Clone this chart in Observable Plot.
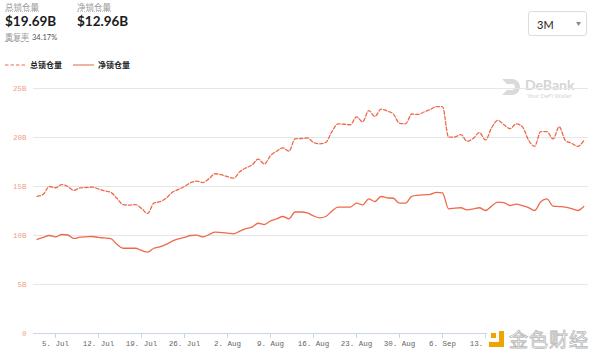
<!DOCTYPE html>
<html><head><meta charset="utf-8">
<script src="https://cdn.jsdelivr.net/npm/d3@7"></script>
<script src="https://cdn.jsdelivr.net/npm/@observablehq/plot@0.6"></script>
<style>
html,body{margin:0;padding:0;background:#fff;width:600px;height:358px;overflow:hidden;font-family:Lato,"Noto Sans CJK SC",sans-serif;}
#wrap{position:relative;width:600px;height:358px;}
#header{position:relative;height:80px;}
.abs{position:absolute;white-space:nowrap;line-height:1;}
.lbl{font-size:8.5px;color:#9a9a9a;font-family:"Noto Sans CJK SC",sans-serif;}
.num{font-size:13.5px;font-weight:700;color:#1a1a1a;}
#chart{position:absolute;left:0;top:80px;}
</style></head>
<body><div id="wrap">
<div id="header">
  <div class="abs lbl" style="left:5px;top:2px;border-bottom:1px dotted #c4c4c4;">总锁仓量</div>
  <div class="abs num" style="left:5px;top:15px;">$19.69B</div>
  <div class="abs lbl" style="left:77px;top:2px;border-bottom:1px dotted #c4c4c4;">净锁仓量</div>
  <div class="abs num" style="left:77px;top:15px;">$12.96B</div>
  <div class="abs lbl" style="left:5px;top:33px;font-size:8px;border-bottom:1px dashed #aaa;">重复率</div>
  <div class="abs" style="left:32px;top:34px;font-size:7.5px;color:#555;">34.17%</div>
  <div class="abs" style="left:528px;top:11px;width:59px;height:25px;border:1px solid #dcdcdc;border-radius:3px;box-sizing:border-box;">
    <span class="abs" style="left:8px;top:7px;font-size:11px;color:#222;">3M</span>
    <span class="abs" style="left:47px;top:9px;font-size:5px;color:#888;">▼</span>
  </div>
  <svg class="abs" style="left:5px;top:61px;" width="24" height="8"><line x1="0" y1="4" x2="21" y2="4" stroke="#eca08a" stroke-width="1.6" stroke-dasharray="3.5,2"/></svg>
  <div class="abs" style="left:30px;top:61px;font-size:8px;font-weight:700;color:#222;font-family:'Noto Sans CJK SC',sans-serif;">总锁仓量</div>
  <svg class="abs" style="left:73px;top:61px;" width="24" height="8"><line x1="0" y1="4" x2="21" y2="4" stroke="#eca08a" stroke-width="1.6"/></svg>
  <div class="abs" style="left:98px;top:61px;font-size:8px;font-weight:700;color:#222;font-family:'Noto Sans CJK SC',sans-serif;">净锁仓量</div>
  <div class="abs" style="left:500px;top:76px;width:22px;height:22px;">
    <svg width="22" height="22"><path d="M2 3 H12 A8 8 0 0 1 12 19 H2 L7 14 H12 A3 3 0 0 0 12 8 H7 Z" fill="#dadada"/></svg>
  </div>
</div>
<div class="abs" style="left:525px;top:78px;font-size:14px;font-weight:700;color:#d4d4d4;">DeBank</div>
<div class="abs" style="left:527px;top:93px;font-size:6px;color:#d4d4d4;">Your DeFi Wallet</div>
<div id="chart"></div>
<div class="abs" style="left:487px;top:328px;width:103px;height:22px;background:rgba(255,255,255,0.85);"></div>
<div class="abs" style="left:489px;top:331px;width:16px;height:16px;">
  <svg width="16" height="16"><path d="M10 0 H15 V16 H0 V11 H10 Z" fill="#f0a400"/><rect x="2" y="2" width="5" height="5" fill="#f0a400"/></svg>
</div>
<div class="abs" style="left:509px;top:329px;font-size:19px;color:#fff;-webkit-text-stroke:0.8px #b8b8b8;font-family:'Noto Sans CJK SC',sans-serif;letter-spacing:1px;">金色财经</div>
</div>
<script>
const dates = [
"2021-07-02","2021-07-03","2021-07-04","2021-07-05","2021-07-06","2021-07-07","2021-07-08","2021-07-09","2021-07-10","2021-07-11",
"2021-07-12","2021-07-13","2021-07-14","2021-07-15","2021-07-16","2021-07-17","2021-07-18","2021-07-19","2021-07-20","2021-07-21",
"2021-07-22","2021-07-23","2021-07-24","2021-07-25","2021-07-26","2021-07-27","2021-07-28","2021-07-29","2021-07-30","2021-07-31",
"2021-08-01","2021-08-02","2021-08-03","2021-08-04","2021-08-05","2021-08-06","2021-08-07","2021-08-08","2021-08-09","2021-08-10",
"2021-08-11","2021-08-12","2021-08-13","2021-08-14","2021-08-15","2021-08-16","2021-08-17","2021-08-18","2021-08-19","2021-08-20",
"2021-08-21","2021-08-22","2021-08-23","2021-08-24","2021-08-25","2021-08-26","2021-08-27","2021-08-28","2021-08-29","2021-08-30",
"2021-08-31","2021-09-01","2021-09-02","2021-09-03","2021-09-04","2021-09-05","2021-09-06","2021-09-07","2021-09-08","2021-09-09",
"2021-09-10","2021-09-11","2021-09-12","2021-09-13","2021-09-14","2021-09-15","2021-09-16","2021-09-17","2021-09-18","2021-09-19",
"2021-09-20","2021-09-21","2021-09-22","2021-09-23","2021-09-24","2021-09-25","2021-09-26","2021-09-27","2021-09-28","2021-09-29"];
// 总锁仓量 (B)
const totalTVL = [
14.0,14.2,15.0,14.87,15.2,15.0,14.6,14.85,14.9,14.93,
14.75,14.55,14.4,13.8,13.15,13.1,13.16,12.75,12.25,13.3,
13.45,13.8,14.4,14.7,15.0,15.4,15.55,15.4,15.8,16.3,
16.2,16.0,15.85,16.5,16.9,17.2,17.8,17.3,18.15,18.6,
18.95,18.6,19.85,19.9,19.95,19.5,19.35,19.5,20.6,21.4,
21.35,21.3,22.1,21.6,22.75,22.15,22.9,22.7,22.4,21.45,
21.4,22.4,22.35,22.6,22.85,23.15,23.16,20.03,20.05,20.3,
19.62,19.9,20.5,19.76,21.0,21.75,21.3,20.9,21.4,21.1,
19.75,19.1,20.6,20.6,19.85,21.1,19.7,19.42,19.1,19.69];
// 净锁仓量 (B)
const netTVL = [
9.6,9.8,10.0,9.85,10.1,10.05,9.7,9.83,9.87,9.9,
9.8,9.75,9.68,9.1,8.7,8.7,8.7,8.47,8.3,8.7,
8.85,9.1,9.42,9.65,9.8,10.0,10.03,9.85,10.1,10.34,
10.3,10.25,10.17,10.45,10.7,10.85,11.25,11.12,11.5,11.7,
11.94,11.7,12.4,12.4,12.3,12.0,11.8,11.94,12.5,12.9,
12.9,12.9,13.3,13.13,13.74,13.47,13.98,13.85,13.8,13.3,
13.3,14.0,14.1,14.15,14.2,14.4,14.36,12.72,12.8,12.83,
12.62,12.7,12.83,12.55,13.0,13.4,13.35,13.06,13.2,13.05,
12.85,12.55,13.45,13.74,13.0,12.95,12.9,12.75,12.55,12.96];
const yTicks = [0,5,10,15,20,25];
const xTicks = ["2021-07-05","2021-07-12","2021-07-19","2021-07-26","2021-08-02","2021-08-09","2021-08-16","2021-08-23","2021-08-30","2021-09-06","2021-09-13","2021-09-20","2021-09-27"];
// labels visible in the reference (the last ones are hidden by the watermark)
const xLabelTicks = ["2021-07-05","2021-07-12","2021-07-19","2021-07-26","2021-08-02","2021-08-09","2021-08-16","2021-08-23","2021-08-30","2021-09-06","2021-09-13"];

const parse = d3.utcParse("%Y-%m-%d");
const rows = dates.map((d,i)=>({date:parse(d), total:totalTVL[i], net:netTVL[i]}));
const xt = xTicks.map(parse);
const xl = xLabelTicks.map(parse);
const fmt = d3.utcFormat("%-d. %b");
const mono = "'Liberation Mono','DejaVu Sans Mono',monospace";
const lineColor = "#ee6a4b";

const chart = Plot.plot({
  width: 600, height: 278,
  marginTop: 8, marginBottom: 25, marginLeft: 33, marginRight: 12,
  x: {type:"utc", domain:[new Date(Date.UTC(2021,6,1,10)), new Date(Date.UTC(2021,8,29,18,30))]},
  y: {domain:[0,25]},
  style: {background:"transparent"},
  marks: [
    Plot.gridY(yTicks, {stroke:"#e6e6e6", strokeOpacity:1, strokeWidth:1}),
    Plot.ruleY([0], {stroke:"#ccd6eb"}),
    Plot.axisY(yTicks, {tickSize:0, tickPadding:7, fontSize:7.5, fontFamily:mono, color:"#f29c8c",
      tickFormat: d => d === 0 ? "0" : d + "B"}),
    Plot.axisX(xt, {tickSize:5, tickFormat: () => "", color:"#ccd6eb"}),
    Plot.axisX(xl, {tickSize:0, tickPadding:7, fontSize:7.5, fontFamily:mono, color:"#666", tickFormat: fmt}),
    Plot.line(rows, {x:"date", y:"total", stroke:lineColor, strokeWidth:1.3, strokeDasharray:"3.5,2", curve:"monotone-x"}),
    Plot.line(rows, {x:"date", y:"net", stroke:lineColor, strokeWidth:1.3, curve:"monotone-x"})
  ]
});
document.getElementById("chart").appendChild(chart);
</script>
</body></html>
